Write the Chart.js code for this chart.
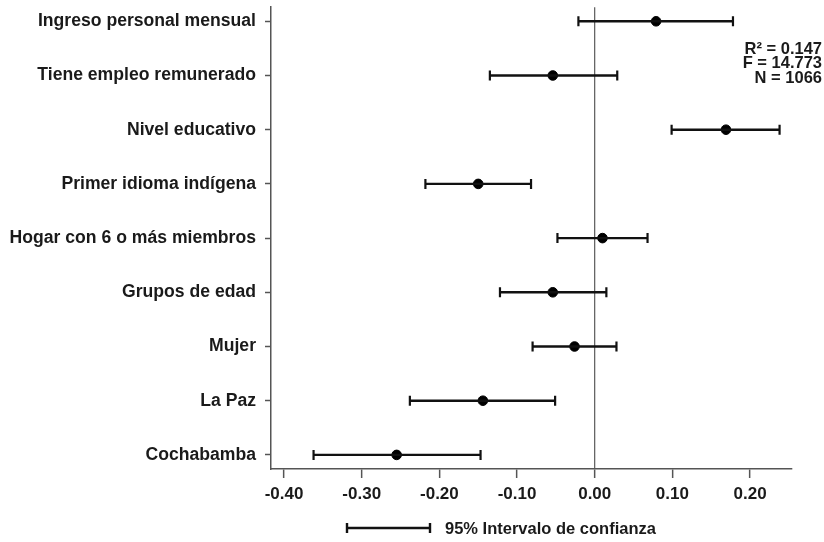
<!DOCTYPE html>
<html>
<head>
<meta charset="utf-8">
<script src="https://cdn.jsdelivr.net/npm/chart.js@4.4.1/dist/chart.umd.min.js"></script>
<style>
  html, body { margin: 0; padding: 0; background: #fff; }
  #wrap { width: 824px; height: 542px; }
</style>
</head>
<body>
<div id="wrap"><canvas id="coef-canvas" width="824" height="542"></canvas></div>
<script>
// Variables del modelo (de arriba hacia abajo)
const variables = [
  "Ingreso personal mensual",
  "Tiene empleo remunerado",
  "Nivel educativo",
  "Primer idioma indígena",
  "Hogar con 6 o más miembros",
  "Grupos de edad",
  "Mujer",
  "La Paz",
  "Cochabamba"
];
// Coeficientes estimados y límites del intervalo de confianza al 95%
const coeficientes = [0.079, -0.054, 0.169, -0.150, 0.010, -0.054, -0.026, -0.144, -0.255];
const limiteInferior = [-0.021, -0.135, 0.099, -0.218, -0.048, -0.122, -0.080, -0.238, -0.362];
const limiteSuperior = [0.178, 0.029, 0.238, -0.082, 0.068, 0.015, 0.028, -0.051, -0.147];
// Marcas del eje horizontal
const ticksX = [-0.40, -0.30, -0.20, -0.10, 0.00, 0.10, 0.20];
// Estadísticos del ajuste
const estadisticos = ["R² = 0.147", "F = 14.773", "N = 1066"];

const FONT = "'Liberation Sans', Arial, sans-serif";
const TEXT = "#1a1a1a";

// un segmento por variable, con remates verticales en los extremos
const intervalos = variables.map((v, i) => ({
  type: "line",
  label: v,
  data: [{ x: limiteInferior[i], y: i }, { x: limiteSuperior[i], y: i }],
  borderColor: "#111",
  borderWidth: 2.4,
  pointStyle: "line",
  rotation: 90,
  pointRadius: 5,
  pointBorderWidth: 2.2,
  pointBorderColor: "#111",
  pointHoverRadius: 5
}));

const puntos = {
  type: "scatter",
  label: "Coeficiente",
  data: coeficientes.map((c, i) => ({ x: c, y: i })),
  backgroundColor: "#000",
  borderColor: "#000",
  pointRadius: 4.8,
  pointHoverRadius: 4.8
};

// textos fuera de los ejes: estadísticos y leyenda del intervalo
const anotaciones = {
  id: "anotaciones",
  afterDraw(chart) {
    const ctx = chart.ctx;
    ctx.save();
    ctx.fillStyle = TEXT;
    ctx.font = "bold 16.5px " + FONT;
    ctx.textAlign = "right";
    ctx.textBaseline = "middle";
    estadisticos.forEach((t, k) => ctx.fillText(t, 822, 49 + k * 14.5));

    // leyenda
    const y = 528;
    ctx.strokeStyle = "#111";
    ctx.lineWidth = 2.4;
    ctx.beginPath();
    ctx.moveTo(347, y); ctx.lineTo(430, y);
    ctx.moveTo(347, y - 5); ctx.lineTo(347, y + 5);
    ctx.moveTo(430, y - 5); ctx.lineTo(430, y + 5);
    ctx.stroke();
    ctx.textAlign = "left";
    ctx.font = "bold 16.5px " + FONT;
    ctx.fillText("95% Intervalo de confianza", 445, y + 1);
    ctx.restore();
  }
};

const ctx = document.getElementById("coef-canvas").getContext("2d");
new Chart(ctx, {
  data: { datasets: [...intervalos, puntos] },
  options: {
    responsive: false,
    animation: false,
    devicePixelRatio: 1,
    layout: { padding: { left: 0, right: 32, top: 7, bottom: 33 } },
    plugins: { legend: { display: false }, tooltip: { enabled: false } },
    scales: {
      x: {
        type: "linear",
        min: -0.4168,
        max: 0.254,
        afterBuildTicks: s => { s.ticks = ticksX.map(v => ({ value: v })); },
        afterFit: s => { s.height = 40; },
        ticks: {
          color: TEXT,
          padding: 6,
          maxRotation: 0,
          font: { family: FONT, size: 17, weight: "bold" },
          callback: v => v.toFixed(2)
        },
        grid: {
          drawOnChartArea: true,
          drawTicks: true,
          tickLength: 9,
          tickWidth: 1.5,
          tickColor: "#555",
          lineWidth: 1.3,
          color: c => (c.tick && c.tick.value === 0 ? "#666" : "rgba(0,0,0,0)")
        },
        border: { display: true, color: "#555", width: 1.5 }
      },
      y: {
        type: "linear",
        reverse: true,
        min: -0.26,
        max: 8.26,
        afterBuildTicks: s => { s.ticks = variables.map((v, i) => ({ value: i })); },
        afterFit: s => { s.width = 271; s.paddingTop = 0; s.paddingBottom = 0; },
        ticks: {
          color: TEXT,
          padding: 9,
          font: { family: FONT, size: 17.6, weight: "bold" },
          callback: v => variables[v]
        },
        grid: {
          drawOnChartArea: false,
          drawTicks: true,
          tickLength: 6,
          tickWidth: 1.5,
          tickColor: "#555"
        },
        border: { display: true, color: "#555", width: 1.5 }
      }
    }
  },
  plugins: [anotaciones]
});
</script>
</body>
</html>
